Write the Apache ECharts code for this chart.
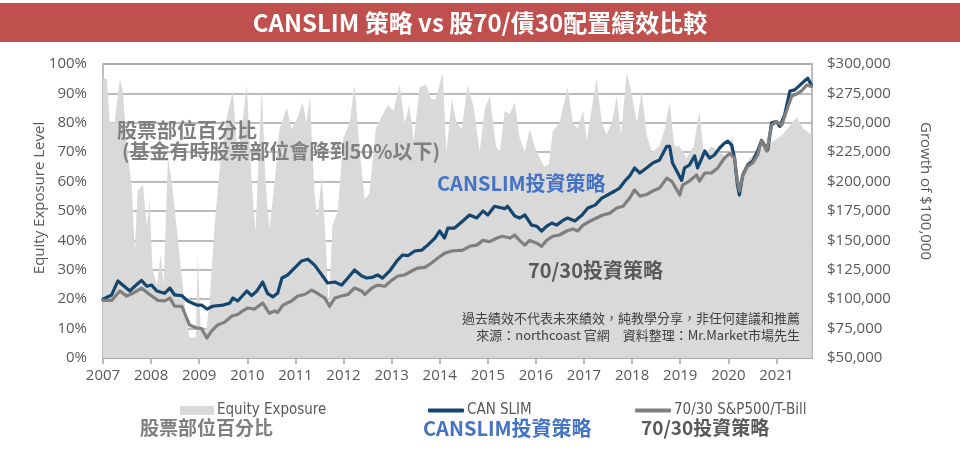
<!DOCTYPE html>
<html><head><meta charset="utf-8">
<script src="https://cdn.jsdelivr.net/npm/echarts@6/dist/echarts.min.js"></script>
<style>html,body{margin:0;padding:0;background:#fff}#c{width:960px;height:452px}</style>
</head><body><div id="c"></div>
<script>
// Year ticks (x axis) and axis ranges
var yearTicks = [2007,2008,2009,2010,2011,2012,2013,2014,2015,2016,2017,2018,2019,2020,2021];
var pctTicks = [0,10,20,30,40,50,60,70,80,90,100];
var dollarTicks = [50000,75000,100000,125000,150000,175000,200000,225000,250000,275000,300000];

// Equity exposure (%) [decimal year, percent]
var exposure = [[2007.00,95],[2007.08,95],[2007.14,80],[2007.24,80],[2007.35,95],[2007.41,91],[2007.51,70],[2007.60,58],[2007.66,36],[2007.72,57],[2007.83,59],[2007.91,45],[2007.97,53],[2008.03,30],[2008.12,25],[2008.20,35],[2008.26,25],[2008.35,68],[2008.43,60],[2008.59,35],[2008.72,15],[2008.80,7],[2008.93,7],[2008.97,35],[2009.03,10],[2009.13,7],[2009.22,20],[2009.32,45],[2009.43,65],[2009.55,80],[2009.70,91],[2009.80,68],[2009.90,80],[2009.99,93],[2010.09,60],[2010.17,43],[2010.30,92],[2010.38,60],[2010.46,44],[2010.57,60],[2010.67,78],[2010.82,85],[2010.92,78],[2011.05,82],[2011.15,87],[2011.23,80],[2011.30,89],[2011.40,55],[2011.46,48],[2011.55,62],[2011.63,40],[2011.69,17],[2011.77,45],[2011.88,50],[2012.00,75],[2012.13,80],[2012.23,93],[2012.34,70],[2012.44,54],[2012.54,56],[2012.67,78],[2012.79,82],[2012.92,86],[2013.04,84],[2013.17,93],[2013.27,80],[2013.37,86],[2013.46,74],[2013.58,92],[2013.71,93],[2013.83,88],[2013.92,88],[2014.06,97],[2014.14,70],[2014.25,88],[2014.35,80],[2014.46,78],[2014.58,93],[2014.71,85],[2014.83,70],[2014.94,85],[2015.04,89],[2015.17,72],[2015.25,70],[2015.35,84],[2015.46,83],[2015.56,87],[2015.66,75],[2015.77,70],[2015.87,78],[2015.97,72],[2016.08,68],[2016.18,65],[2016.27,66],[2016.35,77],[2016.49,80],[2016.66,92],[2016.77,80],[2016.87,78],[2016.98,84],[2017.06,74],[2017.17,86],[2017.26,95],[2017.37,80],[2017.47,76],[2017.58,80],[2017.68,89],[2017.77,76],[2017.89,97],[2017.99,90],[2018.10,80],[2018.20,91],[2018.30,76],[2018.41,70],[2018.57,72],[2018.68,78],[2018.78,87],[2018.88,72],[2018.99,72],[2019.13,68],[2019.28,72],[2019.40,84],[2019.49,69],[2019.65,72],[2019.82,70],[2019.99,68],[2020.09,76],[2020.19,57],[2020.28,62],[2020.44,68],[2020.61,70],[2020.77,72],[2020.96,74],[2021.13,76],[2021.28,79],[2021.42,82],[2021.56,78],[2021.73,76]];

// CAN SLIM growth of $100,000
var canslim = [[2007.00,100000],[2007.18,103600],[2007.31,115500],[2007.41,112000],[2007.56,107000],[2007.66,111000],[2007.80,116000],[2007.91,111000],[2008.01,112000],[2008.12,107000],[2008.28,105000],[2008.39,109500],[2008.49,103600],[2008.64,103000],[2008.76,98500],[2008.95,95000],[2009.05,95000],[2009.16,91600],[2009.28,94000],[2009.49,95000],[2009.63,96500],[2009.70,101000],[2009.80,98500],[2009.99,107000],[2010.09,103000],[2010.20,107000],[2010.32,114600],[2010.42,105000],[2010.53,102000],[2010.63,105000],[2010.72,118000],[2010.84,120600],[2010.98,126500],[2011.13,132500],[2011.26,134000],[2011.40,129000],[2011.55,120600],[2011.67,113800],[2011.82,114600],[2011.96,112000],[2012.09,118000],[2012.23,124800],[2012.38,119700],[2012.48,118000],[2012.59,118500],[2012.71,120600],[2012.81,118000],[2012.96,124000],[2013.11,132500],[2013.23,137600],[2013.34,137000],[2013.48,141000],[2013.63,141800],[2013.75,146000],[2013.90,152000],[2014.00,158000],[2014.10,152000],[2014.17,160500],[2014.31,160500],[2014.48,166500],[2014.62,171600],[2014.77,169000],[2014.90,175000],[2015.00,171600],[2015.14,179000],[2015.25,178000],[2015.35,177000],[2015.41,179000],[2015.56,170700],[2015.66,169000],[2015.77,171600],[2015.91,163000],[2016.02,162000],[2016.12,158000],[2016.22,162000],[2016.33,164800],[2016.43,163000],[2016.56,167000],[2016.66,169000],[2016.81,166500],[2016.96,171600],[2017.08,177500],[2017.23,180000],[2017.37,186000],[2017.49,188600],[2017.64,192000],[2017.74,194500],[2017.85,200500],[2017.95,204800],[2018.05,211600],[2018.16,207300],[2018.30,211600],[2018.43,215800],[2018.57,218400],[2018.72,230000],[2018.78,230000],[2018.84,215800],[2018.95,207300],[2019.03,201000],[2019.09,211600],[2019.19,214000],[2019.30,221800],[2019.36,211600],[2019.45,220000],[2019.51,226000],[2019.61,220000],[2019.71,222600],[2019.82,228600],[2019.92,232800],[2019.99,234500],[2020.07,231000],[2020.13,220000],[2020.19,197000],[2020.23,188600],[2020.30,205600],[2020.40,214000],[2020.51,217500],[2020.61,226000],[2020.69,235000],[2020.75,231000],[2020.82,227000],[2020.90,250000],[2021.00,251000],[2021.07,247000],[2021.17,256600],[2021.28,277000],[2021.38,278000],[2021.49,282000],[2021.58,285500],[2021.65,288000],[2021.73,282000]];

// 70/30 S&P500/T-Bill growth of $100,000
var sp7030 = [[2007.00,99000],[2007.18,99000],[2007.35,107000],[2007.49,102700],[2007.62,105000],[2007.80,109500],[2007.97,104000],[2008.14,99000],[2008.28,98500],[2008.39,101000],[2008.49,94000],[2008.64,94000],[2008.80,78000],[2008.95,75500],[2009.05,75000],[2009.16,67000],[2009.26,73000],[2009.38,78000],[2009.53,80500],[2009.68,85700],[2009.80,87000],[2009.90,90000],[2010.01,92500],[2010.15,91600],[2010.32,96800],[2010.46,88000],[2010.57,90000],[2010.63,88700],[2010.74,95000],[2010.92,98500],[2011.05,102700],[2011.19,104000],[2011.34,107800],[2011.46,105000],[2011.61,101000],[2011.71,94000],[2011.82,101000],[2011.96,102700],[2012.09,104000],[2012.23,109500],[2012.38,107000],[2012.44,104000],[2012.59,109500],[2012.71,112000],[2012.86,111000],[2013.00,116000],[2013.13,119700],[2013.27,120600],[2013.42,124000],[2013.54,126500],[2013.69,127000],[2013.83,130800],[2013.96,135000],[2014.10,139000],[2014.25,141000],[2014.48,141800],[2014.62,145000],[2014.77,146000],[2014.90,150000],[2015.04,149000],[2015.19,152000],[2015.31,153500],[2015.46,152000],[2015.56,154600],[2015.66,150000],[2015.77,146000],[2015.87,150000],[2016.02,147600],[2016.12,145000],[2016.22,150000],[2016.35,153500],[2016.49,154600],[2016.64,158000],[2016.77,159700],[2016.87,158000],[2016.98,163000],[2017.13,166500],[2017.26,169000],[2017.39,171600],[2017.53,173000],[2017.68,177500],[2017.81,179000],[2017.95,186000],[2018.05,193000],[2018.16,187700],[2018.30,189000],[2018.43,192000],[2018.57,194500],[2018.72,203000],[2018.82,200500],[2018.93,193000],[2018.99,188600],[2019.05,197000],[2019.19,200500],[2019.34,205600],[2019.40,200500],[2019.51,207300],[2019.65,207300],[2019.78,211600],[2019.92,220000],[2020.03,224000],[2020.13,220000],[2020.19,200500],[2020.23,192000],[2020.30,204800],[2020.40,213000],[2020.51,216000],[2020.61,222600],[2020.69,234500],[2020.80,226000],[2020.90,248000],[2021.00,251000],[2021.11,248000],[2021.21,260000],[2021.32,272800],[2021.42,274500],[2021.52,277000],[2021.63,282000],[2021.73,281000]];

var titleText = 'CANSLIM 策略 vs 股70/債30配置績效比較';
var names = ['Equity Exposure','CAN SLIM','70/30 S&P500/T-Bill'];

var CJK = '"Noto Sans CJK TC","Noto Sans CJK SC",sans-serif';
var LAT = '"Open Sans","Noto Sans",sans-serif';
var NARROW = '"DejaVu Sans Condensed","Liberation Sans Narrow","Open Sans",sans-serif';

var chart = echarts.init(document.getElementById('c'), null, {renderer:'canvas'});
var legendText = {color:'#595959', fontSize:15, fontFamily:NARROW, padding:[0,0,0,-2]};
var option = {
  animation:false,
  backgroundColor:'#ffffff',
  grid:{left:103, right:148, top:64, bottom:94, show:true, borderColor:'#a6a6a6', borderWidth:1.5, backgroundColor:'transparent'},
  legend:[
    {left:175, top:398, itemWidth:34, itemHeight:9, itemGap:5, data:[{name:names[0], icon:'rect'}], textStyle:legendText},
    {left:423, top:398, itemWidth:36, itemHeight:4, data:[{name:names[1], icon:'roundRect'}], textStyle:legendText},
    {left:630, top:398, itemWidth:36, itemHeight:4, data:[{name:names[2], icon:'roundRect'}], textStyle:legendText}
  ],
  xAxis:{type:'value', min:yearTicks[0], max:2021.74, interval:1,
    axisLine:{show:true, lineStyle:{color:'#a6a6a6', width:1.5}},
    axisTick:{show:true, length:6, lineStyle:{color:'#a6a6a6', width:1.5}},
    axisLabel:{color:'#595959', fontSize:15, fontFamily:LAT, margin:10, showMaxLabel:false,
      formatter:function(v){return yearTicks.indexOf(Math.round(v))>=0 && Math.abs(v-Math.round(v))<1e-6 ? String(Math.round(v)) : '';}},
    splitLine:{show:false}},
  yAxis:[
    {type:'value', min:pctTicks[0], max:pctTicks[pctTicks.length-1], interval:10, position:'left',
      axisLine:{show:false}, axisTick:{show:false},
      axisLabel:{color:'#595959', fontSize:15, fontFamily:LAT, margin:16, formatter:'{value}%'},
      splitLine:{show:true, lineStyle:{color:'#a6a6a6', width:1.5}}},
    {type:'value', min:dollarTicks[0], max:dollarTicks[dollarTicks.length-1], interval:25000, position:'right',
      axisLine:{show:false}, axisTick:{show:false},
      axisLabel:{color:'#595959', fontSize:15, fontFamily:LAT, margin:15,
        formatter:function(v){return '$'+v.toLocaleString('en-US');}},
      splitLine:{show:false}}
  ],
  series:[
    {name:names[0], type:'line', yAxisIndex:0, data:exposure, showSymbol:false, symbol:'none',
      lineStyle:{width:0, color:'#d9d9d9'}, itemStyle:{color:'#d9d9d9'},
      areaStyle:{color:'#d9d9d9', opacity:1}, z:1},
    {name:names[1], type:'line', yAxisIndex:1, data:canslim, showSymbol:false, symbol:'none',
      lineStyle:{width:3.2, color:'#14466f', join:'round', cap:'round'}, itemStyle:{color:'#14466f'}, z:3},
    {name:names[2], type:'line', yAxisIndex:1, data:sp7030, showSymbol:false, symbol:'none',
      lineStyle:{width:3.2, color:'#7f7f7f', join:'round', cap:'round'}, itemStyle:{color:'#7f7f7f'}, z:4}
  ],
  graphic:[
    {type:'rect', left:0, top:3, shape:{width:960, height:39}, style:{fill:'#c0504d'}, z:100},
    {type:'text', x:480, y:23, z:101, style:{text:titleText, fill:'#ffffff', font:'bold 24px '+CJK, align:'center', verticalAlign:'middle'}},
    {type:'text', x:40, y:198, rotation:Math.PI/2, z:101, style:{text:'Equity Exposure Level', fill:'#595959', font:'15px '+LAT, align:'center', verticalAlign:'middle'}},
    {type:'text', x:925, y:191, rotation:-Math.PI/2, z:101, style:{text:'Growth of $100,000', fill:'#595959', font:'15px '+LAT, align:'center', verticalAlign:'middle'}},
    {type:'text', x:117, y:130, z:101, style:{text:'股票部位百分比', fill:'#7f7f7f', font:'bold 20px '+CJK, verticalAlign:'middle'}},
    {type:'text', x:122, y:151, z:101, style:{text:'(基金有時股票部位會降到50%以下)', fill:'#7f7f7f', font:'bold 20px '+CJK, verticalAlign:'middle'}},
    {type:'text', x:437, y:183, z:101, style:{text:'CANSLIM投資策略', fill:'#4472c4', font:'bold 20px '+CJK, verticalAlign:'middle'}},
    {type:'text', x:528, y:270, z:101, style:{text:'70/30投資策略', fill:'#595959', font:'bold 20px '+CJK, verticalAlign:'middle'}},
    {type:'text', x:800, y:318, z:101, style:{text:'過去績效不代表未來績效，純教學分享，非任何建議和推薦', fill:'#404040', font:'13px '+CJK, align:'right', verticalAlign:'middle'}},
    {type:'text', x:800, y:335, z:101, style:{text:'來源：northcoast 官網　資料整理：Mr.Market市場先生', fill:'#404040', font:'13px '+CJK, align:'right', verticalAlign:'middle'}},
    {type:'text', x:140, y:428, z:101, style:{text:'股票部位百分比', fill:'#7f7f7f', font:'bold 19px '+CJK, verticalAlign:'middle'}},
    {type:'text', x:423, y:428, z:101, style:{text:'CANSLIM投資策略', fill:'#4472c4', font:'bold 20px '+CJK, verticalAlign:'middle'}},
    {type:'text', x:641, y:428, z:101, style:{text:'70/30投資策略', fill:'#595959', font:'bold 19px '+CJK, verticalAlign:'middle'}}
  ]
};
chart.setOption(option);
</script></body></html>
